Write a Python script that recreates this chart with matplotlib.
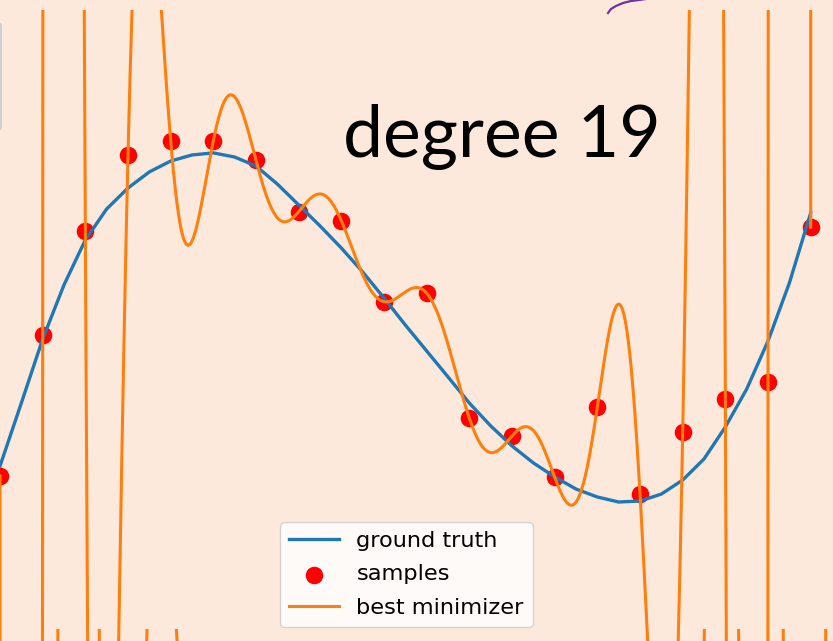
import numpy as np
import matplotlib
matplotlib.use("Agg")
import matplotlib.pyplot as plt
from matplotlib.lines import Line2D
from matplotlib.patches import FancyBboxPatch
from numpy.polynomial import Polynomial

# ground truth curve, sampled on an even grid over [0, 1]
truth_x = np.linspace(0.0, 1.0, 39)
truth_y = [-0.798, -0.434, -0.064, 0.249, 0.509, 0.688, 0.809, 0.902, 0.965, 1.000,
           1.012, 0.988, 0.936, 0.832, 0.711, 0.590, 0.462, 0.324, 0.173, 0.017,
           -0.133, -0.283, -0.434, -0.566, -0.682, -0.780, -0.861, -0.931, -0.977, -1.006,
           -1.000, -0.960, -0.879, -0.757, -0.572, -0.353, -0.075, 0.260, 0.665]

# noisy samples
sample_x = np.linspace(0.0, 1.0, 20)
sample_y = [-0.855, -0.040, 0.561, 1.000, 1.083, 1.083, 0.969, 0.672, 0.620, 0.152,
            0.201, -0.522, -0.624, -0.863, -0.455, -0.960, -0.604, -0.412, -0.310, 0.582]

degree = 19
title_text = "degree 19"
labels = ["ground truth", "samples", "best minimizer"]

# degree-19 least squares fit (interpolates the 20 samples)
fit = Polynomial.fit(sample_x, sample_y, degree)
fit_x = np.linspace(0.0, 1.0, 6000)
fit_y = fit(fit_x)

BG = "#fde9db"
BLUE = "#1f77b4"
ORANGE = "#ff7f0e"

W, H = 833, 641
fig = plt.figure(figsize=(W / 100, H / 100), dpi=100)
fig.patch.set_facecolor(BG)


def px_axes(left, top, width, height):
    return fig.add_axes([left / W, (H - top - height) / H, width / W, height / H])


x_lo, x_hi = -0.05, 1.05
y_lo, y_hi = -2.266, 1.838
span = 810.7
ax_w = span * (x_hi - x_lo)
ax_h = 710
ax_left = x_lo * span


def setup(ax):
    ax.set_xlim(x_lo, x_hi)
    ax.set_ylim(y_lo, y_hi)
    ax.axis("off")
    ax.patch.set_alpha(0)


# copy of the plot sitting lower on the page
ax2 = px_axes(ax_left + 15, 629, ax_w, ax_h)
setup(ax2)
ax2.plot(fit_x, fit_y, color=ORANGE, lw=2.2)

ax = px_axes(ax_left, 10, ax_w, ax_h)
setup(ax)
h1, = ax.plot(truth_x, truth_y, color=BLUE, lw=2.4, label=labels[0],
              solid_joinstyle="round")
h2 = ax.scatter(sample_x, sample_y, s=135, color="red", label=labels[1])
h3, = ax.plot(fit_x, fit_y, color=ORANGE, lw=2.2, label=labels[2])

fig.legend(handles=[h1, h2, h3], loc="upper left",
           bbox_to_anchor=(280 / W, 1 - 522 / H), bbox_transform=fig.transFigure,
           borderaxespad=0, fontsize=16.2, handlelength=2.2, labelspacing=0.6,
           framealpha=0.8)

fig.text(343 / W, 1 - 157 / H, title_text, family="Lato", fontsize=51.5,
         ha="left", va="baseline", color="black")

# pen stroke near the top edge
pen_x = np.array([608, 611, 616, 623, 631, 639, 646])
pen_y = np.array([13, 9, 6, 3, 1, 0, -1])
fig.add_artist(Line2D(pen_x / W, 1 - pen_y / H, color="#7030a0", lw=1.6,
                      transform=fig.transFigure))

# edge of a neighbouring box on the left
fig.add_artist(FancyBboxPatch((-60 / W, 1 - 130 / H), 61 / W, 107 / H,
                              boxstyle="round,pad=0,rounding_size=0.005",
                              transform=fig.transFigure, facecolor="#fdf3ec",
                              edgecolor="#c5cad3", lw=1.2))

fig.savefig("out.png", dpi=100, facecolor=BG)
